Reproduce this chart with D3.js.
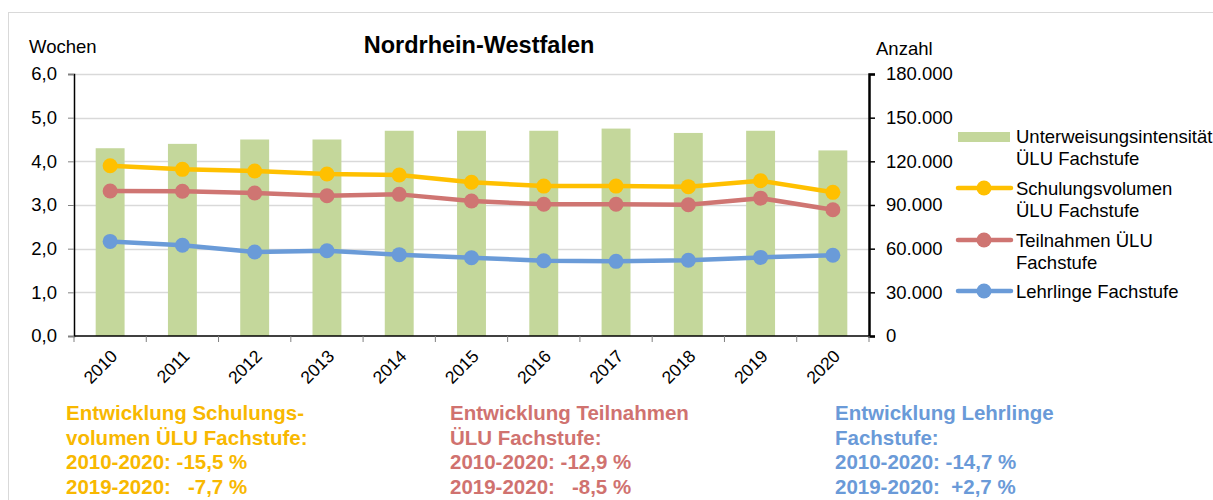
<!DOCTYPE html>
<html>
<head>
<meta charset="utf-8">
<script src="https://cdn.jsdelivr.net/npm/d3@7"></script>
<style>
  body { margin: 0; background: #fff; overflow: hidden; }
  svg { font-family: 'Liberation Sans', Arial, sans-serif; }
</style>
</head>
<body>
<div id="chart"></div>
<script>
const years = ['2010', '2011', '2012', '2013', '2014', '2015', '2016', '2017', '2018', '2019', '2020'];
// Wochen (left axis)
const intensitaet = [4.3, 4.4, 4.5, 4.5, 4.7, 4.7, 4.7, 4.75, 4.65, 4.7, 4.25];
// Anzahl (right axis)
const schulungsvolumen = [117000, 114500, 113400, 111300, 110600, 105600, 103000, 103000, 102600, 106700, 98700];
const teilnahmen = [99600, 99400, 98200, 96400, 97300, 92700, 90500, 90500, 90200, 94700, 86700];
const lehrlinge = [65000, 62300, 57700, 58600, 55900, 53800, 51700, 51300, 52000, 54000, 55450];
const leftTicks = [0, 1, 2, 3, 4, 5, 6];
const rightTicks = [0, 30000, 60000, 90000, 120000, 150000, 180000];

const lineSeries = [
  { name: ['Schulungsvolumen', 'ÜLU Fachstufe'], values: schulungsvolumen, color: '#ffc000' },
  { name: ['Teilnahmen ÜLU', 'Fachstufe'], values: teilnahmen, color: '#cf7572' },
  { name: ['Lehrlinge Fachstufe'], values: lehrlinge, color: '#6a9bd8' }
];
const notes = [
  { lines: ['Entwicklung Schulungs-', 'volumen ÜLU Fachstufe:', '2010-2020: -15,5 %', '2019-2020:   -7,7 %'], color: '#f8b800', x: 66 },
  { lines: ['Entwicklung Teilnahmen', 'ÜLU Fachstufe:', '2010-2020: -12,9 %', '2019-2020:   -8,5 %'], color: '#d0726f', x: 450 },
  { lines: ['Entwicklung Lehrlinge', 'Fachstufe:', '2010-2020: -14,7 %', '2019-2020:  +2,7 %'], color: '#6a9ad8', x: 835 }
];

const W = 1213, H = 500;
const plot = { left: 74, right: 869, top: 74, bottom: 336 };

const svg = d3.select('#chart').append('svg')
  .attr('width', W).attr('height', H);

// outer frame
svg.append('rect')
  .attr('x', 8.5).attr('y', 12.5)
  .attr('width', W).attr('height', H)
  .attr('fill', 'none').attr('stroke', '#d9d9d9');

const x = d3.scaleBand().domain(years).range([plot.left, plot.right]).padding(0);
const yL = d3.scaleLinear().domain([0, 6]).range([plot.bottom, plot.top]);
const yR = d3.scaleLinear().domain([0, 180000]).range([plot.bottom, plot.top]);

// gridlines
svg.append('g').selectAll('line')
  .data(leftTicks.slice(1))
  .enter().append('line')
  .attr('x1', plot.left).attr('x2', plot.right)
  .attr('y1', (d) => Math.round(yL(d)) + 0.5).attr('y2', (d) => Math.round(yL(d)) + 0.5)
  .attr('stroke', '#d9d9d9').attr('stroke-width', 1.3);

// bars
const barW = x.bandwidth() * 0.4;
svg.append('g').selectAll('rect')
  .data(intensitaet)
  .enter().append('rect')
  .attr('x', (d, i) => x(years[i]) + (x.bandwidth() - barW) / 2)
  .attr('width', barW)
  .attr('y', (d) => yL(d))
  .attr('height', (d) => plot.bottom - yL(d))
  .attr('fill', '#c4d79b');

// lines
const line = d3.line().x((d, i) => x(years[i]) + x.bandwidth() / 2);
lineSeries.forEach((s) => {
  const g = svg.append('g');
  g.append('path')
    .attr('d', line.y((d) => yR(d))(s.values))
    .attr('fill', 'none').attr('stroke', s.color)
    .attr('stroke-width', 4.5).attr('stroke-linejoin', 'round');
  g.selectAll('circle')
    .data(s.values)
    .enter().append('circle')
    .attr('cx', (d, i) => x(years[i]) + x.bandwidth() / 2)
    .attr('cy', (d) => yR(d))
    .attr('r', 7.5)
    .attr('fill', s.color);
});

// left axis
const fmt1 = (d) => d.toFixed(1).replace('.', ',');
const leftAxis = svg.append('g')
  .attr('transform', 'translate(' + plot.left + ',0)')
  .call(d3.axisLeft(yL).tickValues(leftTicks).tickFormat(fmt1).tickSize(6).tickPadding(11));
leftAxis.select('.domain').attr('stroke', '#000').attr('stroke-width', 1.5);
leftAxis.selectAll('.tick line').attr('stroke', '#808080');
leftAxis.selectAll('text').attr('font-size', 18.5).attr('fill', '#000')
  .attr('font-family', "'Liberation Sans', Arial, sans-serif");

// right axis
const fmtR = (d) => d3.format(',')(d).replace(/,/g, '.');
const rightAxis = svg.append('g')
  .attr('transform', 'translate(' + plot.right + ',0)')
  .call(d3.axisRight(yR).tickValues(rightTicks).tickFormat(fmtR).tickSize(6).tickPadding(11));
rightAxis.select('.domain').attr('stroke', '#000').attr('stroke-width', 2.5);
rightAxis.selectAll('.tick line').attr('stroke', '#000').attr('stroke-width', 1.5);
rightAxis.selectAll('text').attr('font-size', 18.5).attr('fill', '#000')
  .attr('font-family', "'Liberation Sans', Arial, sans-serif");

// bottom axis
const bottom = svg.append('g')
  .attr('transform', 'translate(0,' + plot.bottom + ')');
bottom.append('line')
  .attr('x1', plot.left).attr('x2', plot.right)
  .attr('stroke', '#000').attr('stroke-width', 1.5);
bottom.selectAll('.tk')
  .data(years.concat(['end']))
  .enter().append('line')
  .attr('x1', (d, i) => plot.left + i * x.step())
  .attr('x2', (d, i) => plot.left + i * x.step())
  .attr('y1', 0).attr('y2', 6)
  .attr('stroke', '#808080');
bottom.selectAll('text')
  .data(years)
  .enter().append('text')
  .attr('transform', (d) => 'translate(' + (x(d) + x.bandwidth() / 2 + 4) + ',17) rotate(-45)')
  .attr('text-anchor', 'end')
  .attr('dy', '0.35em')
  .attr('font-size', 17.5)
  .text((d) => d);

// titles
svg.append('text').attr('x', 479).attr('y', 53)
  .attr('text-anchor', 'middle').attr('font-size', 23.5).attr('font-weight', 'bold')
  .text('Nordrhein-Westfalen');
svg.append('text').attr('x', 29).attr('y', 53).attr('font-size', 18.5).text('Wochen');
svg.append('text').attr('x', 876).attr('y', 55).attr('font-size', 18.5).text('Anzahl');

// legend
const legend = svg.append('g');
legend.append('rect')
  .attr('x', 958).attr('y', 132).attr('width', 52).attr('height', 10)
  .attr('fill', '#c4d79b');
legend.append('text').attr('x', 1016).attr('y', 143).attr('font-size', 18.5)
  .selectAll('tspan').data(['Unterweisungsintensität', 'ÜLU Fachstufe'])
  .enter().append('tspan').attr('x', 1016).attr('dy', (d, i) => i ? 22 : 0).text((d) => d);
const legY = [188, 240, 291];
lineSeries.forEach((s, k) => {
  const g = legend.append('g').attr('transform', 'translate(0,' + legY[k] + ')');
  g.append('line').attr('x1', 958).attr('x2', 1011)
    .attr('stroke', s.color).attr('stroke-width', 4.5).attr('stroke-linecap', 'round');
  g.append('circle').attr('cx', 984).attr('r', 7.5).attr('fill', s.color);
  g.append('text').attr('x', 1016).attr('y', 7).attr('font-size', 18.5)
    .selectAll('tspan').data(s.name)
    .enter().append('tspan').attr('x', 1016).attr('dy', (d, i) => i ? 22 : 0).text((d) => d);
});

// bottom notes
notes.forEach((n) => {
  svg.append('text')
    .attr('x', n.x).attr('y', 420)
    .attr('font-weight', 'bold').attr('font-size', 20.5).attr('fill', n.color)
    .style('white-space', 'pre')
    .selectAll('tspan').data(n.lines)
    .enter().append('tspan')
    .attr('x', n.x).attr('dy', (d, i) => i ? 24.7 : 0)
    .text((d) => d);
});
</script>
</body>
</html>
